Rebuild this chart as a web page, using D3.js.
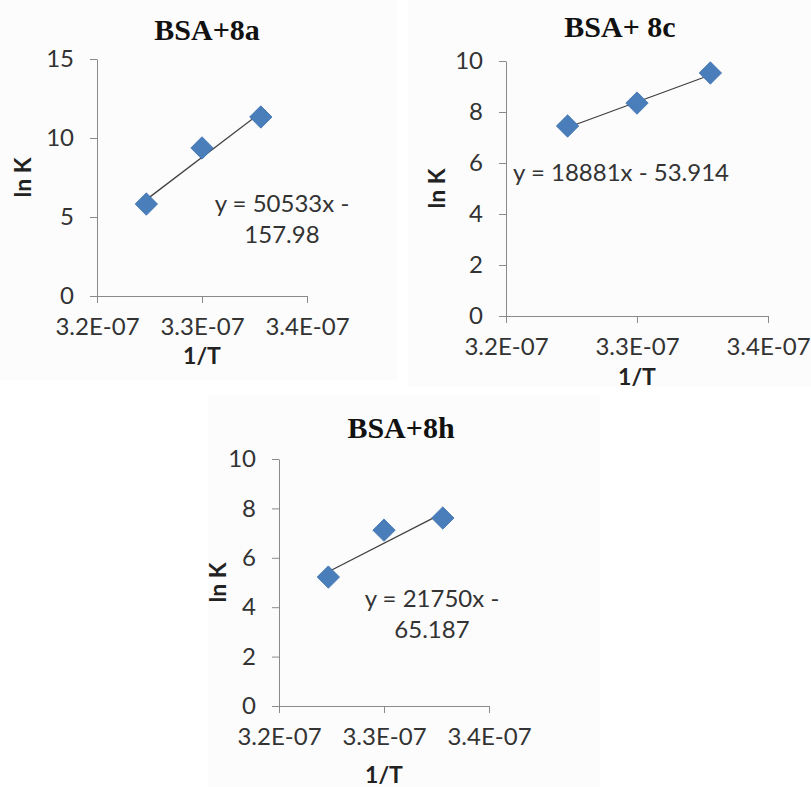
<!DOCTYPE html>
<html>
<head>
<meta charset="utf-8">
<script src="https://cdn.jsdelivr.net/npm/d3@7"></script>
<style>
  body { margin: 0; background: #fff; }
  svg { display: block; }
</style>
</head>
<body>
<script>
// 1/T values (as printed on the axis) and ln K for each complex
const invT = [3.247e-7, 3.300e-7, 3.356e-7];
const lnK8a = [5.82, 9.37, 11.33];
const lnK8c = [7.45, 8.35, 9.53];
const lnK8h = [5.22, 7.12, 7.61];

const titles = ['BSA+8a', 'BSA+ 8c', 'BSA+8h'];
const slopes = [50533, 18881, 21750];
const intercepts = [-157.98, -53.914, -65.187];
const eqLines = [['y = 50533x -', '157.98'], ['y = 18881x - 53.914'], ['y = 21750x -', '65.187']];

const xTicks = [3.2e-7, 3.3e-7, 3.4e-7];
const xTickLabels = ['3.2E-07', '3.3E-07', '3.4E-07'];
const yTicks8a = [0, 5, 10, 15];
const yTicks8c = [0, 2, 4, 6, 8, 10];
const yTicks8h = [0, 2, 4, 6, 8, 10];

// the trendline equations were fitted on 1/T in units of 1e-3
const eqUnit = 1e4;

const numFont = 'Lato, "Open Sans", sans-serif';
const numSize = 24;

const svg = d3.select('body').append('svg')
  .attr('width', 811)
  .attr('height', 787);

// layout of each panel (pixels)
const panels = [
  { lnK: lnK8a, yTicks: yTicks8a, left: 97, right: 307, top: 59, bottom: 296,
    bg: [0, 0, 398, 380], titleX: 207, titleY: 40, eqX: 282, eqY: 212, lnKX: 23, tY: 364 },
  { lnK: lnK8c, yTicks: yTicks8c, left: 506, right: 768, top: 61, bottom: 316,
    bg: [408, 0, 403, 386], titleX: 620, titleY: 37, eqX: 621, eqY: 181, lnKX: 437, tY: 385 },
  { lnK: lnK8h, yTicks: yTicks8h, left: 279, right: 489, top: 459, bottom: 706,
    bg: [208, 395, 392, 392], titleX: 401, titleY: 438, eqX: 432, eqY: 607, lnKX: 218, tY: 783 }
]

panels.forEach((p, i) => {
  let g = svg.append('g').attr('class', 'panel')

  g.append('rect')
    .attr('x', p.bg[0]).attr('y', p.bg[1])
    .attr('width', p.bg[2]).attr('height', p.bg[3])
    .attr('fill', '#fcfcfc')

  let x = d3.scaleLinear().domain([xTicks[0], xTicks[xTicks.length - 1]]).range([p.left, p.right])
  let y = d3.scaleLinear().domain([0, d3.max(p.yTicks)]).range([p.bottom, p.top])

  // y axis
  let yAxis = g.append('g')
    .attr('transform', `translate(${p.left},0)`)
    .call(d3.axisLeft(y).tickValues(p.yTicks).tickSize(7).tickPadding(16).tickSizeOuter(0))
  yAxis.select('.domain').attr('stroke', '#8a8a8a')
  yAxis.selectAll('.tick line').attr('stroke', '#8a8a8a')
  yAxis.selectAll('.tick text')
    .attr('font-family', numFont).attr('font-size', numSize).attr('fill', '#333')

  // x axis
  let xAxis = g.append('g')
    .attr('transform', `translate(0,${p.bottom})`)
    .call(d3.axisBottom(x).tickValues(xTicks).tickSize(7).tickPadding(15).tickSizeOuter(0)
      .tickFormat((d, j) => xTickLabels[j]))
  xAxis.select('.domain').attr('stroke', '#8a8a8a')
  xAxis.selectAll('.tick line').attr('stroke', '#8a8a8a')
  xAxis.selectAll('.tick text')
    .attr('font-family', numFont).attr('font-size', numSize).attr('fill', '#333')

  // trendline between first and last point
  let xEnds = [invT[0], invT[invT.length - 1]]
  g.append('line')
    .attr('x1', x(xEnds[0]))
    .attr('y1', y(slopes[i] * xEnds[0] * eqUnit + intercepts[i]))
    .attr('x2', x(xEnds[1]))
    .attr('y2', y(slopes[i] * xEnds[1] * eqUnit + intercepts[i]))
    .attr('stroke', '#404040')
    .attr('stroke-width', 1.3)

  // diamond markers
  g.selectAll('.pt')
    .data(invT.map((v, j) => ({ x: v, y: p.lnK[j] })))
    .enter()
    .append('path')
    .attr('class', 'pt')
    .attr('d', d3.symbol().type(d3.symbolSquare).size(250))
    .attr('transform', d => `translate(${x(d.x)},${y(d.y)}) rotate(45)`)
    .attr('fill', '#4a7ebb')
    .attr('stroke', '#3f72b0')
    .attr('stroke-width', 0.8)

  // chart title
  g.append('text')
    .attr('x', p.titleX).attr('y', p.titleY)
    .attr('text-anchor', 'middle')
    .attr('font-family', '"Liberation Serif", "Times New Roman", serif')
    .attr('font-weight', 'bold')
    .attr('font-size', 30)
    .attr('fill', '#111')
    .text(titles[i])

  // equation label
  let eq = g.append('text')
    .attr('text-anchor', 'middle')
    .attr('font-family', numFont)
    .attr('font-size', numSize)
    .attr('fill', '#333')
  eqLines[i].forEach((line, k) => {
    eq.append('tspan')
      .attr('x', p.eqX)
      .attr('y', p.eqY + k * 30.5)
      .text(line)
  })

  // axis titles
  g.append('text')
    .attr('x', (p.left + p.right) / 2)
    .attr('y', p.tY)
    .attr('text-anchor', 'middle')
    .attr('font-family', numFont)
    .attr('font-weight', 'bold')
    .attr('font-size', 23)
    .attr('fill', '#222')
    .text('1/T')

  g.append('text')
    .attr('transform', `translate(${p.lnKX},${(p.top + p.bottom) / 2}) rotate(-90)`)
    .attr('dy', '0.35em')
    .attr('text-anchor', 'middle')
    .attr('font-family', numFont)
    .attr('font-weight', 'bold')
    .attr('font-size', 23)
    .attr('fill', '#222')
    .text('ln K')
})
</script>
</body>
</html>
